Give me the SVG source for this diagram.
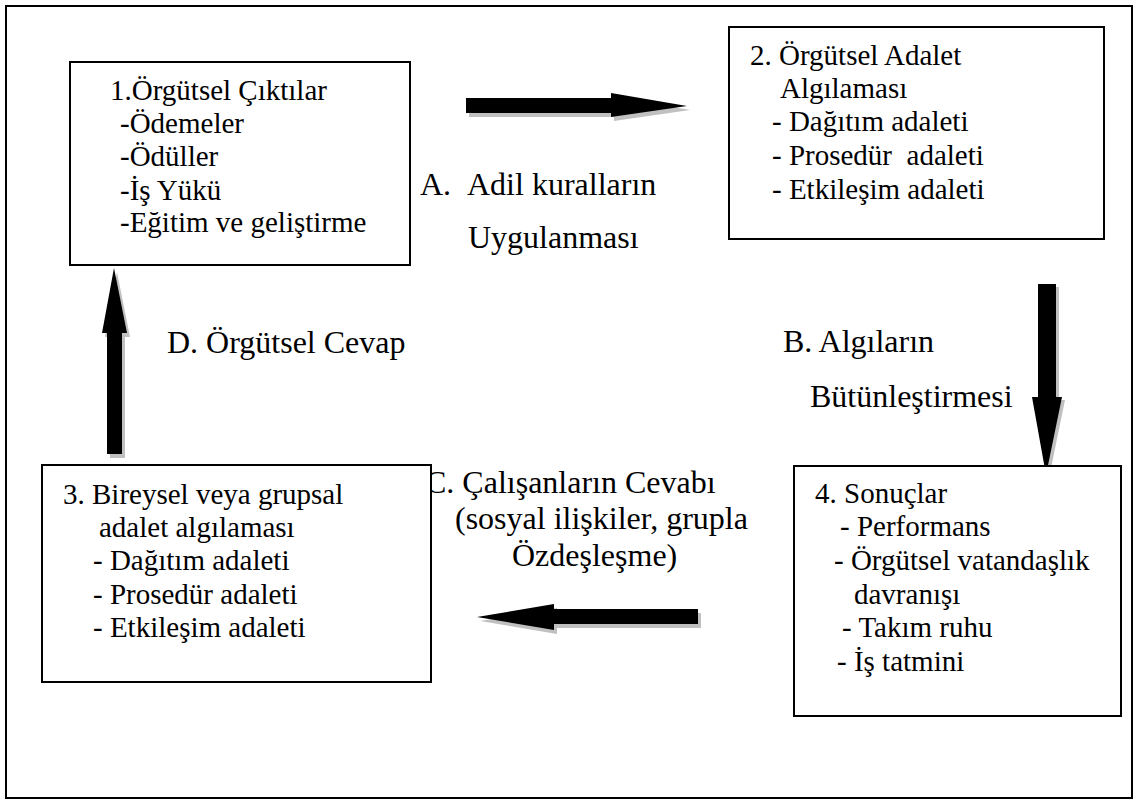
<svg xmlns="http://www.w3.org/2000/svg" xmlns:xlink="http://www.w3.org/1999/xlink" width="1140" height="801" viewBox="0 0 1140 801">
<style>
  .frame { fill: #fff; stroke: #000; stroke-width: 2; }
  .box { fill: #fff; stroke: #000; stroke-width: 2; }
  .t { font-family: "Liberation Serif", "Times New Roman", serif; font-size: 29px; fill: #000; white-space: pre; }
  .lbl { font-family: "Liberation Serif", "Times New Roman", serif; font-size: 32px; fill: #000; white-space: pre; }
  .arrow { fill: #000; }
  .shadow { fill: #c0c0c0; }
</style>
<defs>
  <polygon id="arrA" points="466,98 611,98 611,93 687,106 611,117 611,113 466,113"/>
  <polygon id="arrB" points="1038,284 1056,284 1056,397 1062,397 1046,475 1032,397 1038,397"/>
  <polygon id="arrC" points="698,609 554,609 554,604 477,617 554,630 554,624 698,624"/>
  <polygon id="arrD" points="107,454 107,333 102,333 114,268 127,333 122,333 122,454"/>
</defs>
<rect class="frame" x="6" y="6" width="1126" height="792"/>

<g id="connectors">
  <use xlink:href="#arrA" class="shadow" transform="translate(3,4)"/>
  <use xlink:href="#arrA" class="arrow"/>
  <use xlink:href="#arrB" class="shadow" transform="translate(3,3)"/>
  <use xlink:href="#arrB" class="arrow"/>
  <use xlink:href="#arrC" class="shadow" transform="translate(3,4)"/>
  <use xlink:href="#arrC" class="arrow"/>
  <use xlink:href="#arrD" class="shadow" transform="translate(3,4)"/>
  <use xlink:href="#arrD" class="arrow"/>
</g>

<g id="labels">
  <g id="labelA">
    <text class="lbl" x="420" y="195">A.</text>
    <text class="lbl" x="467" y="195">Adil kuralların</text>
    <text class="lbl" x="468" y="248">Uygulanması</text>
  </g>
  <g id="labelB">
    <text class="lbl" x="783" y="352">B. Algıların</text>
    <text class="lbl" x="810" y="407">Bütünleştirmesi</text>
  </g>
  <g id="labelC">
    <text class="lbl" x="425" y="493">C. Çalışanların Cevabı</text>
    <text class="lbl" x="455" y="529">(sosyal ilişkiler, grupla</text>
    <text class="lbl" x="512" y="566">Özdeşleşme)</text>
  </g>
  <g id="labelD">
    <text class="lbl" x="167" y="353">D. Örgütsel Cevap</text>
  </g>
</g>

<g id="node1">
  <rect class="box" x="70" y="62" width="340" height="203"/>
  <text class="t" x="110" y="100">1.Örgütsel Çıktılar</text>
  <text class="t" x="120" y="133">-Ödemeler</text>
  <text class="t" x="120" y="166">-Ödüller</text>
  <text class="t" x="120" y="200">-İş Yükü</text>
  <text class="t" x="120" y="232">-Eğitim ve geliştirme</text>
</g>

<g id="node2">
  <rect class="box" x="729" y="27" width="375" height="212"/>
  <text class="t" x="750" y="65">2. Örgütsel Adalet</text>
  <text class="t" x="780" y="98">Algılaması</text>
  <text class="t" x="772" y="131">- Dağıtım adaleti</text>
  <text class="t" x="772" y="165">- Prosedür  adaleti</text>
  <text class="t" x="772" y="199">- Etkileşim adaleti</text>
</g>

<g id="node3">
  <rect class="box" x="42" y="465" width="389" height="217"/>
  <text class="t" x="63" y="504">3. Bireysel veya grupsal</text>
  <text class="t" x="99" y="537">adalet algılaması</text>
  <text class="t" x="93" y="570">- Dağıtım adaleti</text>
  <text class="t" x="93" y="604">- Prosedür adaleti</text>
  <text class="t" x="93" y="637">- Etkileşim adaleti</text>
</g>

<g id="node4">
  <rect class="box" x="794" y="466" width="327" height="250"/>
  <text class="t" x="815" y="503">4. Sonuçlar</text>
  <text class="t" x="840" y="536">- Performans</text>
  <text class="t" x="834" y="570">- Örgütsel vatandaşlık</text>
  <text class="t" x="854" y="604">davranışı</text>
  <text class="t" x="842" y="637">- Takım ruhu</text>
  <text class="t" x="837" y="671">- İş tatmini</text>
</g>
</svg>
